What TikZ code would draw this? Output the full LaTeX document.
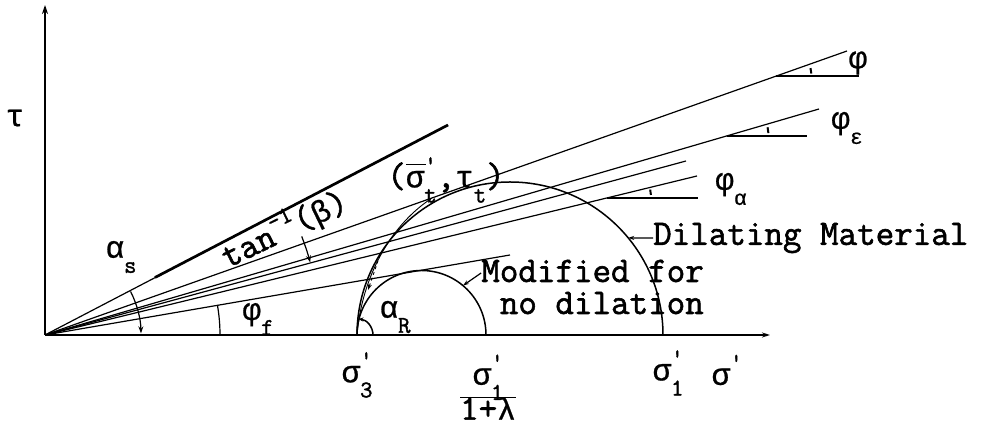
\documentclass[tikz,border=0pt]{standalone}
\usepackage{fontspec}
\setmainfont{Latin Modern Mono}[FakeBold=1.6]
\newfontfamily\grk{Liberation Mono}[FakeBold=0.8]
\usetikzlibrary{arrows.meta}
\newcommand\bigsz{\fontsize{36}{32}\selectfont}
\newcommand\smallsz{\fontsize{24}{24}\selectfont}
\newcommand\g[1]{{\grk\fontsize{31}{31}\selectfont #1}}
\newcommand\gsm[1]{{\grk\fontsize{21}{21}\selectfont #1}}
\newcommand\mysb[1]{\raisebox{-0.42em}{\smallsz #1}}
\newcommand\mysp[1]{\raisebox{0.42em}{\smallsz #1}}
\newcommand\mypr{\raisebox{0.42em}{\smallsz\textquotesingle}}
\newcommand\mysupsub[1]{\rlap{\mypr}\mysb{#1}}
\newcommand\ovsig{\leavevmode\rlap{\raisebox{0.62em}{\rule{0.55em}{1.4pt}}}\g{σ}}
\begin{document}
\begin{tikzpicture}[x=1pt,y=1pt,
  font=\bigsz,
  ln/.style={line width=1.2pt},
  axisln/.style={line width=1.7pt},
  thk/.style={line width=2.7pt},
  arcln/.style={line width=1.5pt},
  tip/.style={-{Stealth[length=7pt,width=5pt]}},
  lbl/.style={inner sep=0pt}]
\useasboundingbox (0,0) rectangle (989,427);
% axes
\coordinate (O) at (45,92);
\coordinate (Ytop) at (45,422);
\coordinate (Xend) at (770,92);
\draw[axisln,-{Stealth[length=9pt,width=6pt]}] (O) -- (Ytop);
\draw[axisln,-{Stealth[length=8pt,width=5pt,open]}] (O) -- (Xend);
% tan^-1(beta) line
\coordinate (Sa) at (155,149.5);
\coordinate (Sb) at (448,302);
\draw[ln] (O) -- (Sb);
\draw[thk] (Sa) -- (Sb);
% phi line
\coordinate (P1) at (847,376);
\coordinate (H1a) at (776.4,351);
\coordinate (H1b) at (859,351);
\draw[ln] (O) -- (P1);
\draw[ln] (H1a) -- (H1b);
\draw[line width=2pt] (H1a) ++(4:35) arc[start angle=4,end angle=13,radius=35];
% phi_epsilon line
\coordinate (P2) at (819,318);
\coordinate (H2a) at (726.5,291);
\coordinate (H2b) at (807,291);
\draw[ln] (O) -- (P2);
\draw[ln] (H2a) -- (H2b);
\draw[line width=2pt] (H2a) ++(4:42) arc[start angle=4,end angle=12,radius=42];
% intermediate line
\coordinate (P3) at (686,266);
\draw[ln] (O) -- (P3);
% phi_alpha line
\coordinate (P4) at (697,251);
\coordinate (H4a) at (607,229);
\coordinate (H4b) at (698,229);
\draw[ln] (O) -- (P4);
\draw[ln] (H4a) -- (H4b);
\draw[line width=2pt] (H4a) ++(4:44) arc[start angle=4,end angle=11,radius=44];
% phi_f line
\coordinate (P5) at (510,172);
\draw[ln] (O) -- (P5);
% Mohr circles
\coordinate (C1r) at (663,92);
\coordinate (C2r) at (486,92);
\draw[arcln] (C1r) arc[start angle=0,end angle=180,radius=153];
\draw[arcln] (C2r) arc[start angle=0,end angle=180,radius=64.5];
% angle arcs
\draw[ln,tip] (O) ++(27:96) arc[start angle=27,end angle=1,radius=96];
\draw[ln,tip] (O) ++(21:275) arc[start angle=21,end angle=15.3,radius=275];
\draw[ln] (O) ++(0:175) arc[start angle=0,end angle=9.8,radius=175];
\coordinate (S3) at (357,92);
\draw[arcln,-{Stealth[length=5pt,width=4pt]}] (S3) ++(0:16) arc[start angle=0,end angle=85,radius=16];
% path of tangent point
\coordinate (T) at (432,229);
\draw[line width=0.9pt,-{Stealth[length=6pt,width=4pt]}] (S3) .. controls (362,150) and (390,200) .. (T);
\coordinate (Da) at (380,172);
\coordinate (Db) at (368,137);
\draw[line width=0.9pt,dashed,-{Stealth[length=6pt,width=4pt]}] (Da) -- (Db);
% labels
\node[lbl] (tau) at (15,309) {\g{τ}};
\node[lbl] (as) at (121,170) {\g{α}\mysb{s}};
\node[lbl,rotate=26] (tanb) at (284,199) {tan\mysp{-1}(\g{β})};
\node[lbl] (phf) at (258,108) {\g{φ}\mysb{f}};
\node[lbl] (aR) at (395,110) {\g{α}\mysb{R}};
\node[lbl] (tp) at (446,247) {(\ovsig\mysupsub{t},\g{τ}\mysb{t})};
\node[lbl] (ph) at (858,364) {\g{φ}};
\node[lbl] (phe) at (847,299) {\g{φ}\raisebox{-0.42em}{\gsm{ε}}};
\node[lbl] (pha) at (731,238) {\g{φ}\raisebox{-0.42em}{\gsm{α}}};
\node[lbl,anchor=west] (dil) at (653,189) {Dilating Material};
\coordinate (Cd) at ([shift={(39.4:153)}]510,92);
\draw[ln,-{Stealth[length=6pt,width=4pt]}] (dil.west) -- (Cd);
\node[lbl,anchor=east,align=right] (mod) at (704,140) {Modified for\\no dilation};
\coordinate (Cm) at ([shift={(50:64.5)}]421.5,92);
\draw[ln,-{Stealth[length=6pt,width=4pt]}] ([yshift=14pt]mod.west) -- (Cm);
\node[lbl] (s3) at (357,52) {\g{σ}\mysupsub{3}};
\node[lbl] (frac) at (488,35) {\renewcommand\arraystretch{1.0}\begin{tabular}{@{}c@{}}\g{σ}\mysupsub{1}\\[-3pt]\hline 1+\g{λ}\end{tabular}};
\node[lbl] (s1) at (668,54) {\g{σ}\mysupsub{1}};
\node[lbl] (sp) at (727,57) {\g{σ}\mypr};
\end{tikzpicture}
\end{document}
